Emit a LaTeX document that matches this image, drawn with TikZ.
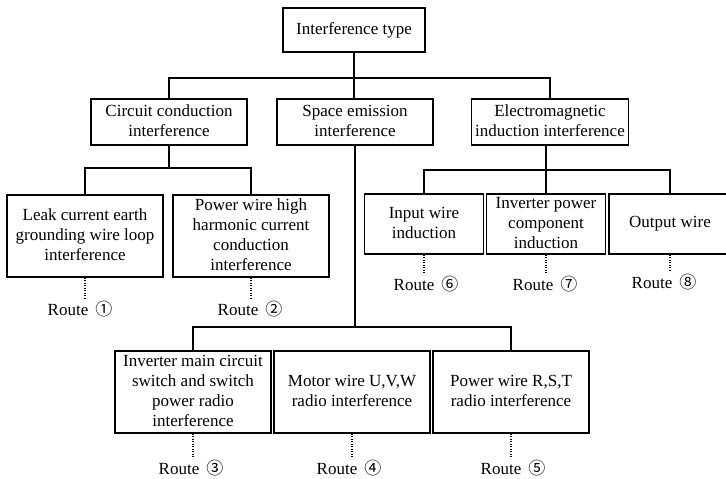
\documentclass[tikz,border=0pt]{standalone}
\usepackage{fontspec}
\setmainfont{Liberation Serif}
\newfontfamily\cjk{Noto Sans CJK SC}
\usetikzlibrary{calc}
\newcommand{\rt}[1]{Route\hspace{7pt}{\cjk #1}}

\begin{document}
\begin{tikzpicture}[x=1pt, y=-1pt, line width=1.5pt,
   font=\fontsize{17}{20}\selectfont,
   box/.style={draw, inner sep=0pt, minimum width=156pt, minimum height=82pt},
   route/.style={line width=1.2pt, dash pattern=on 1.2pt off 1.3pt},
   lbl/.style={inner sep=2pt}]
  \useasboundingbox (0,0) rectangle (726,479);
  % first and second level
  \node[box, minimum width=142pt, minimum height=44pt] (type) at (354, 30) {Interference type};
  \node[box, minimum height=46pt] (cond) at (169, 122) {\begin{tabular}{@{}c@{}} Circuit conduction \\ interference \end{tabular}};
  \node[box, minimum height=46pt] (space) at (355, 122) {\begin{tabular}{@{}c@{}} Space emission \\ interference \end{tabular}};
  \node[box, minimum width=157pt, minimum height=46pt] (induct) at (550, 122) {\begin{tabular}{@{}c@{}} Electromagnetic \\ induction interference \end{tabular}};
  % conduction
  \node[box] (leak) at (85, 236) {\begin{tabular}{@{}c@{}} Leak current earth \\ grounding wire loop \\ interference \end{tabular}};
  \node[box] (harm) at (251, 236) {\begin{tabular}{@{}c@{}} Power wire high \\ harmonic current \\ conduction \\ interference \end{tabular}};
  % induction
  \node[box, minimum width=119pt, minimum height=60pt] (inwire) at (424, 224) {\begin{tabular}{@{}c@{}} Input wire \\ induction \end{tabular}};
  \node[box, minimum width=119pt, minimum height=60pt] (comp) at (546, 224) {\begin{tabular}{@{}c@{}} Inverter power \\ component \\ induction \end{tabular}};
  \node[box, minimum width=122pt, minimum height=60pt] (outwire) at (670, 224) {Output wire};
  % emission
  \node[box] (mainsw) at (193, 392) {\begin{tabular}{@{}c@{}} Inverter main circuit \\ switch and switch \\ power radio \\ interference \end{tabular}};
  \node[box] (motor) at (352, 392) {\begin{tabular}{@{}c@{}} Motor wire U,V,W \\ radio interference \end{tabular}};
  \node[box] (rst) at (511, 392) {\begin{tabular}{@{}c@{}} Power wire R,S,T \\ radio interference \end{tabular}};
  % routes
  \node[lbl] (r1) at (80, 309) {\rt{①}};
  \node[lbl] (r2) at (250, 309) {\rt{②}};
  \node[lbl] (r3) at (191, 468) {\rt{③}};
  \node[lbl] (r4) at (349, 468) {\rt{④}};
  \node[lbl] (r5) at (513, 468) {\rt{⑤}};
  \node[lbl] (r6) at (426, 284) {\rt{⑥}};
  \node[lbl] (r7) at (545, 284) {\rt{⑦}};
  \node[lbl] (r8) at (664, 282) {\rt{⑧}};

  \coordinate (bus1) at (354, 78);
  \coordinate (bus2) at (169, 168);
  \coordinate (bus3) at (546, 170);
  \coordinate (bus4) at (354, 327);
  \draw (type.south) -- (type.south |- space.north);
  \draw (cond.north) |- (bus1) -| (induct.north);
  \draw (cond.south) -- (bus2);
  \draw (leak.north) |- (bus2) -| (harm.north);
  \draw (comp.north) -- (comp.north |- induct.south);
  \draw (inwire.north) |- (bus3) -| (outwire.north);
  \draw (space.south) -- (space.south |- bus4);
  \draw (mainsw.north) |- (bus4) -| (rst.north);

  \draw[route] (leak.south) -- (leak.south |- r1.north);
  \draw[route] (harm.south) -- (harm.south |- r2.north);
  \draw[route] (mainsw.south) -- (mainsw.south |- r3.north);
  \draw[route] (motor.south) -- (motor.south |- r4.north);
  \draw[route] (rst.south) -- (rst.south |- r5.north);
  \draw[route] (inwire.south) -- (inwire.south |- r6.north);
  \draw[route] (comp.south) -- (comp.south |- r7.north);
  \draw[route] (outwire.south) -- (outwire.south |- r8.north);
\end{tikzpicture}
\end{document}
